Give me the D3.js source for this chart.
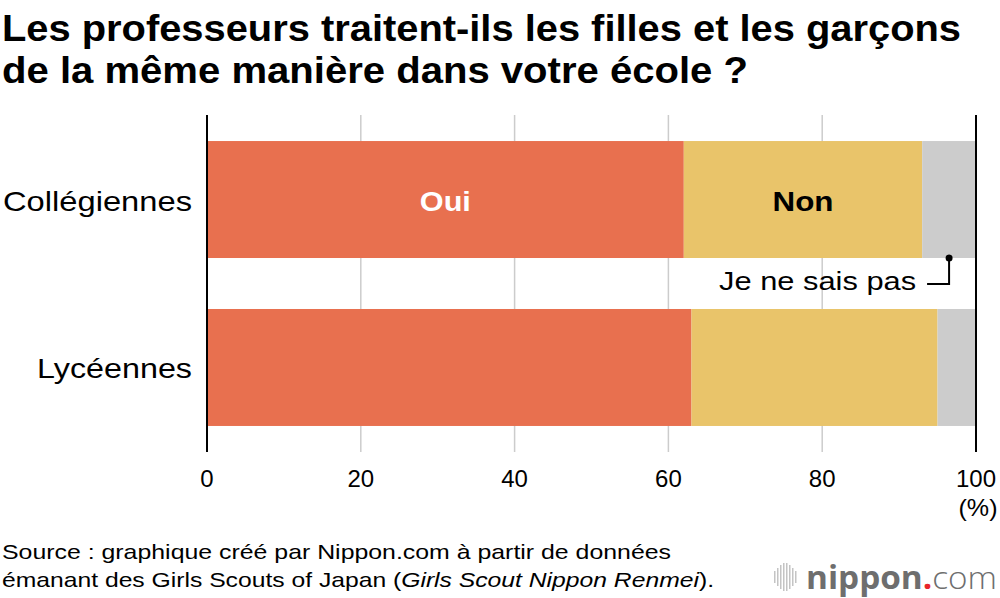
<!DOCTYPE html>
<html lang="fr">
<head>
    <meta charset="UTF-8">
    <title>Les professeurs traitent-ils les filles et les garçons de la même manière</title>
    <script src="https://d3js.org/d3.v7.min.js"></script>
    <style>
        body {
            margin: 0;
            padding: 0;
            background: #fff;
            font-family: "Liberation Sans", Arial, sans-serif;
        }
    </style>
</head>
<body>
    <div id="chart"></div>

    <script>
        // data
        const categories = ["Collégiennes", "Lycéennes"];
        const answers = ["Oui", "Non", "Je ne sais pas"];
        const oui = [62, 63];
        const non = [31, 32];
        const nsp = [7, 5];
        const ticks = [0, 20, 40, 60, 80, 100];
        const titleLines = [
            "Les professeurs traitent-ils les filles et les garçons",
            "de la même manière dans votre école ?"
        ];
        const sourceLines = [
            "Source : graphique créé par Nippon.com à partir de données",
            "émanant des Girls Scouts of Japan ("
        ];
        const logoBars = [12, 18, 24, 28, 28, 24, 18, 12];

        const colors = { "Oui": "#e8704f", "Non": "#e9c46a", "Je ne sais pas": "#cccccc" };

        const width = 1000, height = 598;

        // the reference face runs wider than Liberation Sans, so stretch to the measured widths
        const fit = (sel, w) => sel.attr("textLength", w).attr("lengthAdjust", "spacingAndGlyphs");

        const svg = d3.select("#chart")
            .append("svg")
            .attr("width", width)
            .attr("height", height);

        // title
        const titleW = [959, 746];
        svg.append("g")
            .selectAll("text")
            .data(titleLines)
            .enter()
            .append("text")
            .attr("x", 2)
            .attr("y", (d, i) => 41 + i * 42)
            .style("font-size", "36px")
            .style("font-weight", "bold")
            .attr("fill", "#000")
            .attr("textLength", (d, i) => titleW[i])
            .attr("lengthAdjust", "spacingAndGlyphs")
            .text(d => d);

        const x = d3.scaleLinear().domain([0, 100]).range([207, 976]);
        const y = d3.scaleBand()
            .domain(categories)
            .range([115, 452])
            .paddingInner(0.3036)
            .paddingOuter(0.155);

        // gridlines
        svg.append("g")
            .selectAll("line")
            .data(ticks.filter(t => t > 0 && t < 100))
            .enter()
            .append("line")
            .attr("x1", d => x(d))
            .attr("x2", d => x(d))
            .attr("y1", 115)
            .attr("y2", 452)
            .attr("stroke", "#cccccc")
            .attr("stroke-width", 1.5);

        // stacked data
        const rows = categories.map((c, i) => ({
            cat: c, "Oui": oui[i], "Non": non[i], "Je ne sais pas": nsp[i]
        }));
        const series = d3.stack().keys(answers)(rows);

        svg.append("g")
            .selectAll("g")
            .data(series)
            .enter()
            .append("g")
            .attr("fill", d => colors[d.key])
            .selectAll("rect")
            .data(d => d)
            .enter()
            .append("rect")
            .attr("x", d => x(d[0]))
            .attr("width", d => x(d[1]) - x(d[0]))
            .attr("y", d => y(d.data.cat))
            .attr("height", y.bandwidth());

        // 0 and 100 lines over the bars
        svg.append("g")
            .selectAll("line")
            .data([0, 100])
            .enter()
            .append("line")
            .attr("x1", d => x(d))
            .attr("x2", d => x(d))
            .attr("y1", 115)
            .attr("y2", 452)
            .attr("stroke", "#000")
            .attr("stroke-width", 2);

        // labels inside first bar
        const first = series.map(s => s[0]);
        fit(svg.append("text")
            .attr("x", x((first[0][0] + first[0][1]) / 2))
            .attr("y", y(categories[0]) + y.bandwidth() / 2 + 11)
            .attr("text-anchor", "middle")
            .style("font-size", "28px")
            .style("font-weight", "bold")
            .attr("fill", "#fff")
            .text(answers[0]), 51);

        fit(svg.append("text")
            .attr("x", x((first[1][0] + first[1][1]) / 2))
            .attr("y", y(categories[0]) + y.bandwidth() / 2 + 11)
            .attr("text-anchor", "middle")
            .style("font-size", "28px")
            .style("font-weight", "bold")
            .attr("fill", "#000")
            .text(answers[1]), 61);

        // annotation for "Je ne sais pas"
        const ax = x((first[2][0] + first[2][1]) / 2);
        const ay = y(categories[0]) + y.bandwidth();
        svg.append("circle")
            .attr("cx", ax)
            .attr("cy", ay)
            .attr("r", 3.5)
            .attr("fill", "#000");
        svg.append("path")
            .attr("d", `M${ax},${ay} V${ay + 26} H${ax - 22}`)
            .attr("fill", "none")
            .attr("stroke", "#000")
            .attr("stroke-width", 2);
        fit(svg.append("text")
            .attr("x", ax - 33)
            .attr("y", ay + 32)
            .attr("text-anchor", "end")
            .style("font-size", "25px")
            .attr("fill", "#000")
            .text(answers[2]), 197);

        // category labels
        const catW = [189, 155];
        svg.append("g")
            .selectAll("text")
            .data(categories)
            .enter()
            .append("text")
            .attr("x", 192)
            .attr("y", d => y(d) + y.bandwidth() / 2 + 11)
            .attr("text-anchor", "end")
            .style("font-size", "28px")
            .attr("fill", "#000")
            .attr("textLength", (d, i) => catW[i])
            .attr("lengthAdjust", "spacingAndGlyphs")
            .text(d => d);

        // x tick labels
        svg.append("g")
            .selectAll("text")
            .data(ticks)
            .enter()
            .append("text")
            .attr("x", d => x(d))
            .attr("y", 487)
            .attr("text-anchor", "middle")
            .style("font-size", "24px")
            .attr("fill", "#000")
            .text(d => d);

        fit(svg.append("text")
            .attr("x", x(100) + 2)
            .attr("y", 516)
            .attr("text-anchor", "middle")
            .style("font-size", "24px")
            .attr("fill", "#000")
            .text("(%)"), 39);

        // source
        fit(svg.append("text")
            .attr("x", 2)
            .attr("y", 559)
            .style("font-size", "21px")
            .attr("fill", "#000")
            .text(sourceLines[0]), 669);

        const src2 = fit(svg.append("text")
            .attr("x", 2)
            .attr("y", 587)
            .style("font-size", "21px")
            .attr("fill", "#000"), 712);
        src2.append("tspan").text(sourceLines[1]);
        src2.append("tspan").style("font-style", "italic").text("Girls Scout Nippon Renmei");
        src2.append("tspan").text(").");

        // logo
        const logo = svg.append("g").attr("transform", "translate(774,577)");
        logo.selectAll("rect")
            .data(logoBars)
            .enter()
            .append("rect")
            .attr("x", (d, i) => i * 3)
            .attr("y", d => -d / 2)
            .attr("width", 1.5)
            .attr("height", d => d)
            .attr("fill", "#c4c4c4");

        const logoText = svg.append("text")
            .attr("x", 806)
            .attr("y", 589)
            .style("font-family", "'Open Sans', sans-serif")
            .style("font-size", "32px")
            .attr("fill", "#6e6e6e")
            .attr("textLength", 191)
            .attr("lengthAdjust", "spacingAndGlyphs");
        logoText.append("tspan").style("font-weight", "bold").text("nippon");
        logoText.append("tspan").attr("fill", "#e8262b").style("font-weight", "bold").text(".");
        logoText.append("tspan").style("font-weight", "300").text("com");
    </script>
</body>
</html>
